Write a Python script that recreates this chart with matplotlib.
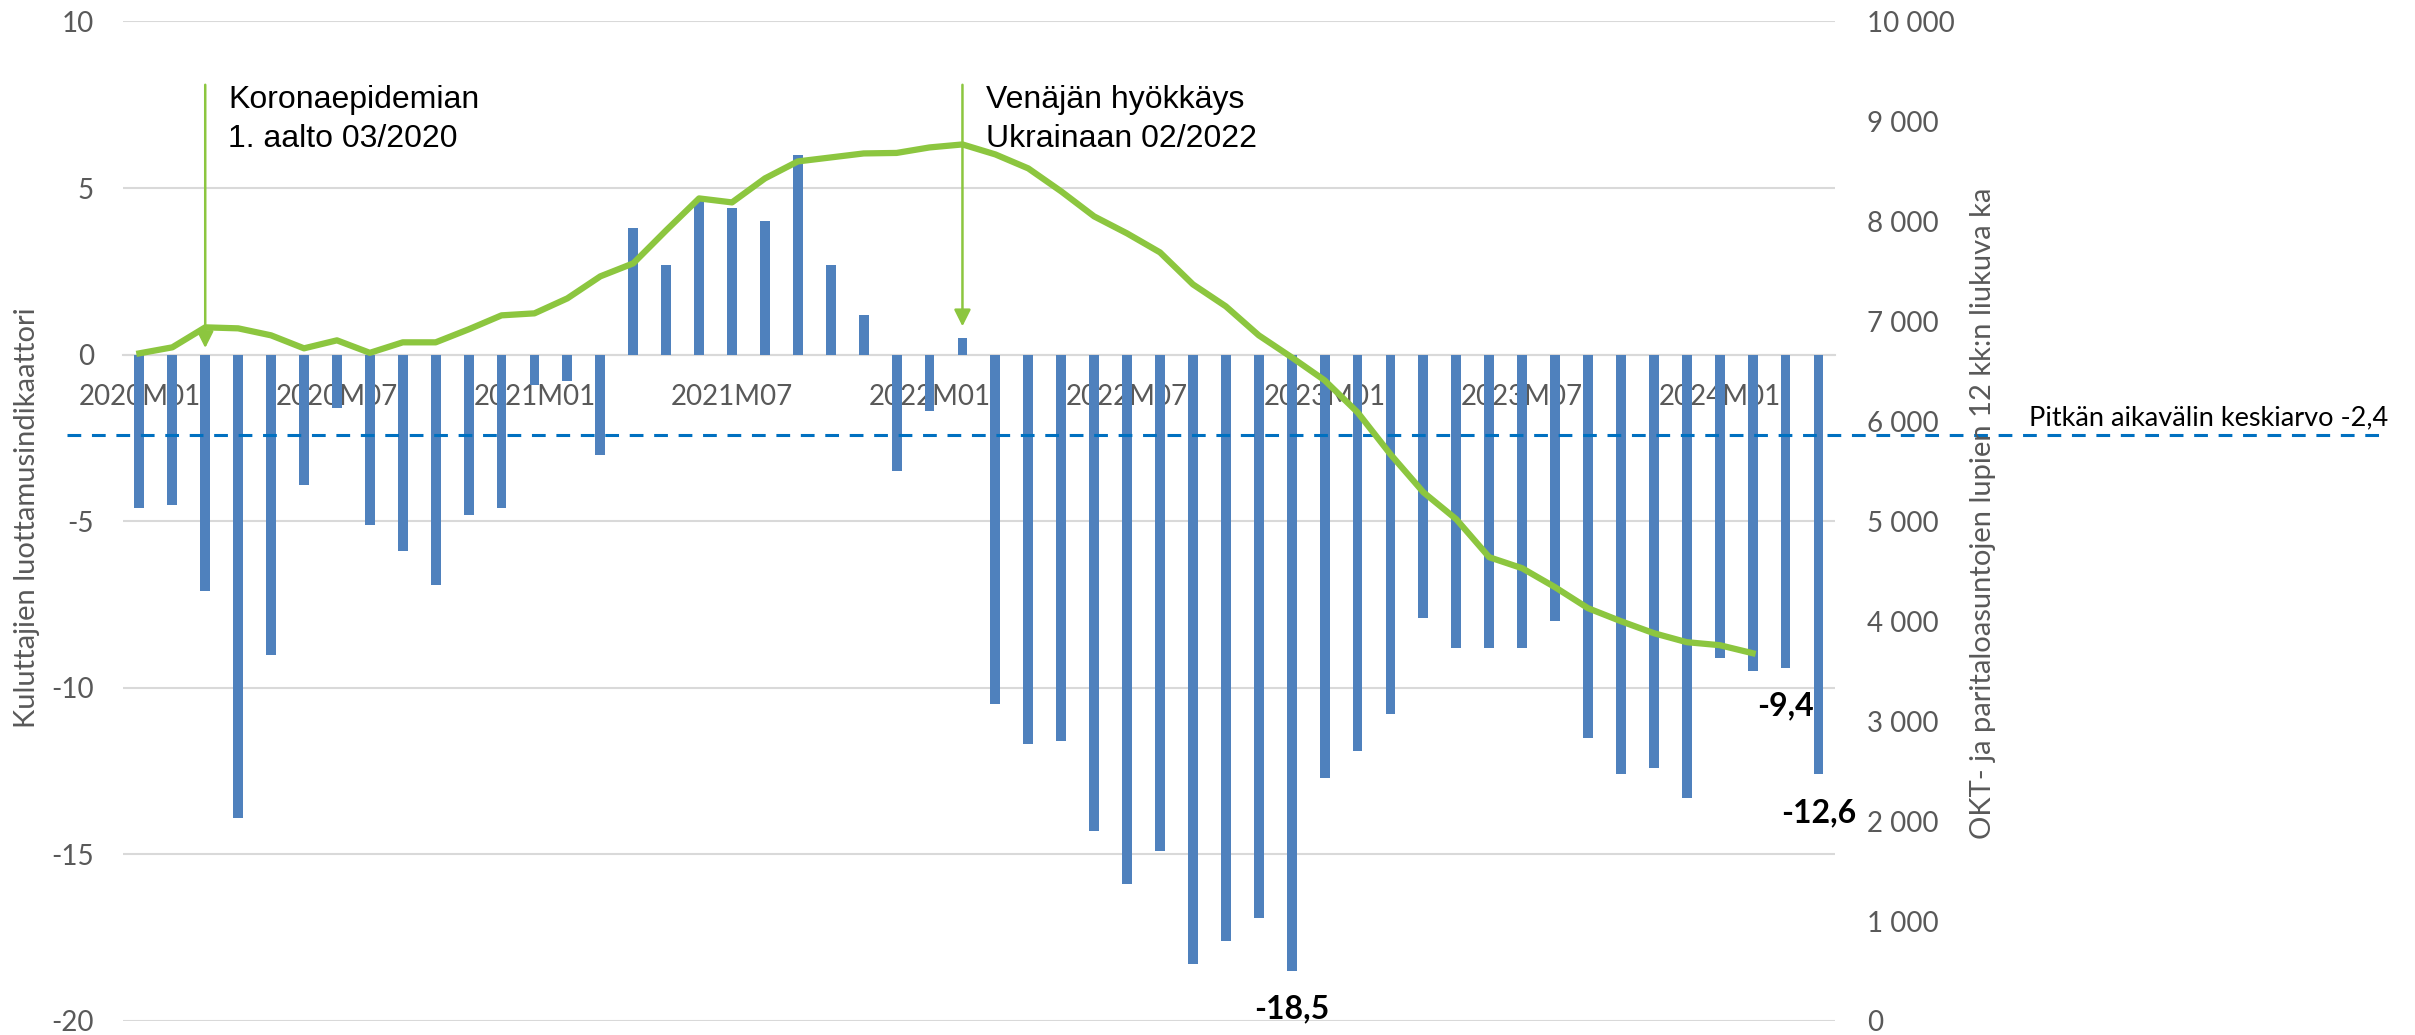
import matplotlib
matplotlib.use('Agg')
import matplotlib.pyplot as plt
import numpy as np

plt.rcParams['font.family'] = ['Lato', 'DejaVu Sans']
plt.rcParams['axes.unicode_minus'] = False

# kuukaudet 2020M01 .. 2024M04
months = [f"{y}M{m:02d}" for y in range(2020, 2025) for m in range(1, 13)][:52]
tick_every = 6

# kuluttajien luottamusindikaattori (pylvaat)
confidence = [-4.6, -4.5, -7.1, -13.9, -9.0, -3.9, -1.6, -5.1, -5.9, -6.9,
              -4.8, -4.6, -0.9, -0.8, -3.0, 3.8, 2.7, 4.6, 4.4, 4.0,
              6.0, 2.7, 1.2, -3.5, -1.7, 0.5, -10.5, -11.7, -11.6, -14.3,
              -15.9, -14.9, -18.3, -17.6, -16.9, -18.5, -12.7, -11.9, -10.8, -7.9,
              -8.8, -8.8, -8.8, -8.0, -11.5, -12.6, -12.4, -13.3, -9.1, -9.5,
              -9.4, -12.6]

# OKT- ja paritalolupien 12 kk liukuva ka (viiva), 2020M01 .. 2024M02
permits = [6680, 6740, 6940, 6930, 6860, 6730, 6810, 6685, 6790, 6790,
           6920, 7060, 7080, 7230, 7450, 7580, 7910, 8230, 8190, 8430,
           8600, 8640, 8680, 8685, 8740, 8770, 8670, 8530, 8300, 8050,
           7880, 7690, 7370, 7150, 6860, 6640, 6410, 6090, 5670, 5290,
           5020, 4640, 4530, 4340, 4130, 4000, 3880, 3790, 3760, 3680]

long_avg = -2.4
labelled = [35, 50, 51]

events = [(2, 0.2, "Koronaepidemian", "1. aalto 03/2020"),
          (25, 0.85, "Venäjän hyökkäys", "Ukrainaan 02/2022")]

bar_col = '#4f81bd'
line_col = '#8cc63f'
grey = '#595959'

fig = plt.figure(figsize=(24.15, 10.35), dpi=100)
ax = fig.add_axes([0.0509, 0.01353, 0.7089, 0.9657])
ax2 = ax.twinx()

x = np.arange(len(months))
ax.bar(x, confidence, width=0.3, color=bar_col, zorder=3)
ax.set_xlim(-0.5, len(months) - 0.5)
ax.set_ylim(-20, 10)
ax.set_yticks(range(-20, 11, 5))
ax.grid(axis='y', color='#d9d9d9', lw=1.5, zorder=0)
ax.set_axisbelow(True)
for s in ['top', 'left', 'right']:
    ax.spines[s].set_visible(False)
ax.spines['bottom'].set_position(('data', 0))
ax.spines['bottom'].set_color('#d9d9d9')
ax.spines['bottom'].set_linewidth(1.5)
ax.set_xticks(x[::tick_every])
ax.set_xticklabels(months[::tick_every])
ax.tick_params(axis='x', length=0, pad=21, labelsize=20, labelcolor=grey)
ax.tick_params(axis='y', length=0, pad=21, labelsize=20, labelcolor=grey)

# pitkan aikavalin keskiarvo
ax.plot([-2.2, 68.3], [long_avg, long_avg], ls=(0, (4.5, 3.5)), color='#0070c0',
        lw=2.2, clip_on=False, zorder=5)
ax.text(57.4, -2.13, "Pitkän aikavälin keskiarvo -2,4", fontsize=19.5,
        color='black', va='baseline', ha='left')

for i in labelled:
    v = confidence[i]
    ax.text(i, v - 1.14, f"{v:.1f}".replace('.', ','), ha='center', va='center',
            fontsize=23, fontweight='bold', color='black', zorder=6)

ax2.plot(np.arange(len(permits)), permits, color=line_col, lw=4.5,
         solid_joinstyle='round', zorder=4)
ax2.set_ylim(0, 10000)
ax2.set_yticks(range(0, 10001, 1000))
ax2.set_yticklabels([f"{v:,}".replace(',', ' ') for v in range(0, 10001, 1000)])
ax2.tick_params(axis='y', length=0, pad=23, labelsize=20, labelcolor=grey)
for s in ax2.spines.values():
    s.set_visible(False)

for xi, tip, l1, l2 in events:
    ax2.annotate('', xy=(xi, tip), xytext=(xi, 8.1), xycoords=ax.transData,
                 textcoords=ax.transData,
                 arrowprops=dict(arrowstyle='-|>,head_length=0.5,head_width=0.25',
                                 color=line_col, lw=1.8, mutation_scale=20,
                                 shrinkA=0, shrinkB=0))
    ax2.text(xi + 0.7, 7.41, l1, transform=ax.transData, fontsize=23,
             family=['Liberation Sans', 'DejaVu Sans'], va='baseline')
    ax2.text(xi + 0.7, 6.24, l2, transform=ax.transData, fontsize=23,
             family=['Liberation Sans', 'DejaVu Sans'], va='baseline')

fig.text(0.0112, 0.5, "Kuluttajien luottamusindikaattori", rotation=90,
         fontsize=21, color=grey, ha='center', va='center')
fig.text(0.821, 0.504, "OKT- ja paritaloasuntojen lupien 12 kk:n liukuva ka",
         rotation=90, fontsize=21, color=grey, ha='center', va='center')

fig.savefig('out.png', dpi=100)
